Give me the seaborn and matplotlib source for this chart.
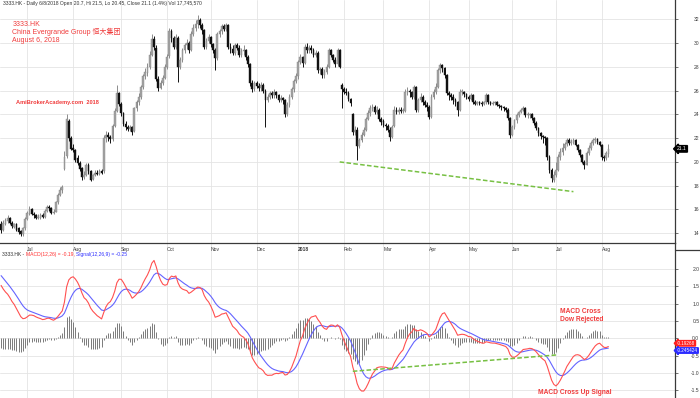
import numpy as np
import pandas as pd
import seaborn as sns
import matplotlib
import matplotlib.pyplot as plt
from matplotlib.lines import Line2D

matplotlib.use("Agg")

# daily bars, 3333.HK, mid June 2017 - 6 Aug 2018
opens = [
    14.8, 14.3, 14.8, 15.0, 15.3, 14.9, 14.5, 14.8, 14.4, 14.2,
    13.9, 14.4, 15.2, 15.6, 16.0, 15.6, 15.5, 15.3, 15.3, 15.5,
    15.4, 15.9, 16.2, 16.1, 15.7, 15.8, 16.6, 17.2, 17.6, 19.4,
    20.5, 23.4, 22.0, 21.2, 21.0, 20.3, 19.9, 19.5, 18.7, 18.9,
    19.7, 19.2, 18.6, 18.9, 19.1, 19.0, 19.2, 19.2, 22.0, 22.3,
    22.1, 21.9, 23.0, 24.3, 25.8, 24.9, 24.1, 23.2, 22.9, 22.8,
    22.9, 22.6, 24.5, 25.0, 25.5, 26.3, 27.2, 27.5, 28.0, 29.0,
    30.3, 29.6, 27.0, 26.2, 26.6, 27.1, 28.0, 28.9, 31.0, 30.4,
    29.7, 30.4, 28.0, 28.6, 29.4, 29.8, 30.0, 29.4, 30.8, 31.3,
    31.6, 31.9, 31.5, 31.1, 29.7, 30.2, 30.5, 29.9, 29.4, 28.7,
    30.8, 31.0, 31.4, 31.2, 31.5, 29.7, 29.5, 29.2, 29.8, 29.6,
    29.0, 29.3, 29.4, 28.8, 28.2, 26.6, 26.1, 26.6, 26.4, 26.2,
    26.5, 26.0, 25.2, 25.5, 25.8, 25.6, 25.9, 25.6, 25.2, 25.4,
    25.2, 24.0, 24.8, 25.5, 26.1, 26.8, 27.2, 28.4, 28.8, 28.3,
    29.7, 29.4, 29.6, 29.4, 29.0, 29.2, 27.7, 27.8, 27.3, 27.6,
    28.0, 29.4, 29.0, 28.6, 28.2, 29.4, 26.5, 26.1, 25.9, 25.8,
    25.3, 24.0, 22.5, 22.7, 21.3, 21.85, 22.3, 22.7, 23.6, 24.1,
    24.5, 24.6, 24.2, 24.4, 23.6, 23.4, 23.1, 23.0, 22.7, 22.1,
    23.0, 24.4, 24.2, 24.4, 24.3, 24.3, 25.9, 26.0, 25.9, 25.5,
    26.3, 24.4, 25.2, 25.5, 25.0, 24.8, 24.6, 23.8, 25.5, 25.9,
    26.3, 27.7, 28.15, 27.9, 27.3, 25.8, 25.6, 25.5, 25.2, 25.0,
    24.4, 25.9, 25.9, 25.7, 25.5, 25.3, 25.6, 25.0, 24.9, 25.0,
    24.95, 24.9, 25.0, 25.6, 25.0, 24.9, 24.95, 25.0, 24.8, 24.7,
    24.6, 24.5, 24.4, 23.7, 22.3, 22.95, 23.5, 23.95, 24.2, 24.4,
    24.55, 23.95, 23.95, 24.0, 23.7, 23.3, 22.85, 22.4, 22.2, 22.1,
    22.0, 20.4, 19.3, 18.5, 18.9, 19.3, 20.4, 20.85, 21.2, 21.5,
    21.85, 21.6, 21.7, 21.85, 21.4, 21.0, 20.6, 20.0, 19.75, 20.75,
    21.2, 21.6, 21.85, 21.9, 21.7, 21.45, 20.4, 20.3, 20.7,
]
highs = [
    15.0, 15.1, 15.3, 15.5, 15.4, 15.0, 14.9, 14.9, 14.5, 14.3,
    14.5, 15.4, 15.9, 16.3, 16.1, 15.8, 15.6, 15.6, 15.7, 15.7,
    16.0, 16.4, 16.4, 16.2, 16.0, 16.7, 17.4, 17.9, 18.1, 20.9,
    24.0, 23.6, 22.2, 21.5, 21.1, 20.6, 20.1, 19.6, 19.2, 19.9,
    19.9, 19.3, 19.0, 19.3, 19.3, 19.4, 19.4, 22.3, 22.6, 22.5,
    22.3, 23.2, 24.5, 26.5, 25.9, 25.0, 24.2, 23.4, 23.1, 23.1,
    23.0, 24.6, 25.2, 25.8, 26.5, 27.4, 27.9, 28.3, 29.3, 30.8,
    30.6, 29.8, 27.2, 26.9, 27.3, 28.2, 29.1, 31.3, 31.2, 30.6,
    30.8, 30.6, 28.8, 29.6, 30.0, 30.3, 30.2, 31.0, 31.6, 31.9,
    32.4, 32.1, 31.7, 31.2, 30.4, 30.8, 30.6, 30.0, 29.6, 30.9,
    31.2, 31.6, 31.6, 31.7, 31.6, 30.0, 29.8, 30.0, 30.0, 29.8,
    29.6, 29.8, 29.5, 29.0, 28.3, 26.9, 26.8, 26.8, 26.6, 26.7,
    26.6, 26.1, 25.7, 26.0, 26.0, 26.1, 26.0, 25.7, 25.6, 25.5,
    25.3, 25.0, 25.7, 26.3, 27.0, 27.5, 28.6, 29.1, 28.9, 29.9,
    30.0, 29.8, 29.8, 29.6, 29.4, 29.3, 28.0, 28.0, 27.8, 28.2,
    29.6, 29.5, 29.1, 28.8, 29.6, 29.5, 26.6, 26.3, 26.2, 26.0,
    25.4, 24.1, 23.0, 22.9, 22.0, 22.5, 22.9, 23.8, 24.4, 24.8,
    24.9, 24.8, 24.7, 24.5, 23.8, 23.6, 23.3, 23.2, 22.9, 23.1,
    24.7, 24.6, 24.6, 24.6, 24.5, 26.1, 26.3, 26.1, 26.0, 26.5,
    26.4, 25.4, 25.8, 25.6, 25.2, 25.0, 24.8, 25.7, 26.1, 26.6,
    27.9, 28.3, 28.2, 28.0, 27.4, 26.0, 25.8, 25.7, 25.4, 25.1,
    26.1, 26.1, 26.0, 25.8, 25.6, 25.8, 25.7, 25.2, 25.1, 25.1,
    25.1, 25.1, 25.8, 25.7, 25.1, 25.1, 25.1, 25.1, 24.9, 24.8,
    24.7, 24.6, 24.5, 23.8, 23.1, 23.6, 24.1, 24.3, 24.5, 24.7,
    24.6, 24.2, 24.1, 24.1, 23.8, 23.4, 22.9, 22.5, 22.3, 22.2,
    22.1, 20.6, 19.5, 19.2, 20.0, 20.7, 21.2, 21.6, 21.7, 22.0,
    22.0, 21.9, 22.0, 21.9, 21.5, 21.1, 20.7, 20.2, 20.9, 21.4,
    21.8, 22.0, 22.1, 22.0, 21.8, 21.5, 20.6, 20.9, 21.5,
]
lows = [
    14.0, 14.2, 14.7, 14.9, 14.8, 14.4, 14.4, 14.2, 13.9, 13.8,
    13.8, 14.3, 15.1, 15.5, 15.5, 15.3, 15.2, 15.2, 15.2, 15.3,
    15.3, 15.8, 15.9, 15.6, 15.6, 15.8, 16.5, 17.1, 17.4, 19.3,
    20.3, 21.8, 21.0, 20.8, 20.0, 19.7, 19.2, 18.5, 18.6, 18.8,
    19.0, 18.4, 18.5, 18.8, 18.9, 18.9, 19.0, 19.1, 21.7, 21.8,
    21.6, 21.8, 22.9, 24.2, 24.7, 23.9, 23.0, 22.7, 22.6, 22.6,
    22.3, 22.5, 24.3, 24.8, 25.3, 26.1, 27.0, 27.2, 27.8, 28.9,
    29.4, 26.8, 26.0, 26.1, 26.5, 27.0, 27.8, 28.7, 30.1, 29.5,
    29.5, 26.7, 27.8, 28.4, 29.2, 29.5, 29.2, 29.3, 30.6, 31.0,
    31.3, 31.3, 30.8, 29.5, 29.5, 30.0, 29.7, 29.2, 27.7, 28.6,
    30.5, 30.8, 31.0, 31.0, 29.5, 29.2, 29.0, 29.0, 29.4, 28.8,
    28.8, 29.0, 28.6, 28.0, 26.4, 25.9, 26.0, 26.2, 26.0, 26.0,
    25.8, 22.9, 25.0, 25.3, 25.4, 25.4, 25.4, 25.0, 25.0, 24.9,
    23.8, 23.9, 24.6, 25.3, 25.9, 26.6, 27.0, 28.2, 28.0, 28.2,
    29.2, 29.2, 29.2, 28.8, 28.8, 27.5, 27.4, 27.1, 27.1, 27.4,
    27.9, 28.8, 28.4, 28.0, 28.1, 27.9, 24.5, 25.7, 25.6, 25.1,
    24.7, 22.3, 22.3, 20.2, 21.2, 21.7, 22.2, 22.6, 23.5, 23.9,
    24.3, 24.0, 24.0, 23.4, 23.1, 22.9, 22.7, 22.5, 21.8, 22.0,
    22.9, 24.0, 24.0, 24.1, 24.1, 24.2, 25.6, 25.5, 25.3, 25.3,
    24.2, 24.2, 25.0, 24.8, 24.6, 24.3, 23.6, 23.7, 25.3, 25.7,
    26.2, 27.5, 27.6, 27.1, 25.6, 25.2, 25.2, 24.9, 24.7, 23.9,
    24.3, 25.6, 25.5, 25.3, 25.1, 25.2, 24.9, 24.8, 24.8, 24.8,
    24.7, 24.8, 24.9, 24.9, 24.8, 24.8, 24.8, 24.7, 24.5, 24.4,
    24.3, 24.2, 23.5, 22.0, 22.2, 22.8, 23.3, 23.8, 24.1, 24.3,
    23.8, 23.7, 23.7, 23.5, 23.1, 22.7, 22.2, 21.9, 21.6, 21.4,
    20.2, 19.1, 18.3, 18.3, 18.7, 19.2, 20.2, 20.6, 21.0, 21.3,
    21.4, 21.4, 21.5, 21.3, 20.8, 20.4, 19.9, 19.4, 19.7, 20.6,
    21.0, 21.4, 21.6, 21.5, 21.3, 20.2, 20.1, 20.2, 20.45,
]
closes = [
    14.3, 14.9, 15.1, 15.3, 14.9, 14.6, 14.8, 14.3, 14.1, 13.9,
    14.4, 15.2, 15.7, 16.0, 15.6, 15.5, 15.3, 15.4, 15.5, 15.4,
    15.9, 16.2, 16.1, 15.7, 15.8, 16.6, 17.2, 17.6, 17.9, 20.4,
    23.6, 22.0, 21.1, 21.0, 20.2, 19.9, 19.4, 18.7, 18.9, 19.7,
    19.2, 18.5, 18.9, 19.1, 19.0, 19.2, 19.1, 22.0, 22.3, 22.1,
    21.9, 23.0, 24.3, 25.8, 24.9, 24.1, 23.2, 22.9, 22.8, 22.9,
    22.5, 24.5, 25.0, 25.5, 26.3, 27.2, 27.6, 28.0, 29.0, 30.3,
    29.7, 27.0, 26.2, 26.6, 27.1, 28.0, 28.8, 31.0, 30.4, 29.7,
    30.5, 28.0, 28.6, 29.4, 29.8, 30.0, 29.4, 30.8, 31.3, 31.6,
    31.9, 31.5, 31.1, 29.7, 30.2, 30.5, 29.9, 29.4, 28.7, 30.8,
    31.0, 31.4, 31.2, 31.5, 29.7, 29.5, 29.2, 29.8, 29.6, 29.0,
    29.3, 29.4, 28.8, 28.2, 26.6, 26.1, 26.6, 26.4, 26.2, 26.5,
    26.0, 25.2, 25.5, 25.8, 25.6, 25.9, 25.6, 25.2, 25.4, 25.2,
    24.0, 24.8, 25.5, 26.1, 26.8, 27.2, 28.4, 28.8, 28.3, 29.7,
    29.4, 29.6, 29.4, 29.0, 29.2, 27.7, 27.8, 27.3, 27.6, 28.0,
    29.4, 29.0, 28.6, 28.2, 29.4, 28.0, 26.1, 25.9, 25.8, 25.3,
    24.95, 22.5, 22.7, 21.3, 21.85, 22.3, 22.7, 23.6, 24.1, 24.5,
    24.6, 24.2, 24.4, 23.6, 23.4, 23.1, 23.0, 22.7, 22.1, 22.95,
    24.4, 24.2, 24.4, 24.3, 24.3, 25.9, 26.0, 25.9, 25.5, 26.3,
    24.4, 25.2, 25.5, 25.0, 24.8, 24.6, 23.8, 25.5, 25.9, 26.3,
    27.7, 28.15, 27.9, 27.3, 25.8, 25.6, 25.5, 25.2, 25.0, 24.4,
    25.9, 25.9, 25.7, 25.5, 25.3, 25.6, 25.0, 24.9, 25.0, 24.95,
    24.9, 25.0, 25.6, 25.0, 24.9, 24.95, 25.0, 24.8, 24.7, 24.6,
    24.5, 24.4, 23.7, 22.3, 22.95, 23.5, 23.95, 24.2, 24.4, 24.55,
    23.95, 23.95, 24.0, 23.7, 23.3, 22.85, 22.4, 22.2, 22.1, 22.0,
    20.4, 19.3, 18.65, 18.9, 19.3, 20.4, 20.85, 21.2, 21.5, 21.85,
    21.6, 21.7, 21.85, 21.4, 21.0, 20.6, 20.0, 19.75, 20.75, 21.2,
    21.6, 21.85, 21.9, 21.7, 21.45, 20.4, 20.3, 20.75, 21.1,
]

# month labels on the date axis and the bar they fall on
month_labels = ["Jul", "Aug", "Sep", "Oct", "Nov", "Dec", "2018",
                "Feb", "Mar", "Apr", "May", "Jun", "Jul", "Aug"]
month_bars = [12, 33, 55, 76, 96, 117, 136, 157, 175, 196, 214, 234, 254, 275]

price_ticks = [14, 16, 18, 20, 22, 24, 26, 28, 30, 32]
macd_ticks = [-1.5, -1.0, -0.5, 0.0, 0.5, 1.0, 1.5, 2.0]

ema12_start = 14.9
ema26_start = 13.2
signal_start = 1.88

# hand drawn trend lines
price_trend_bar = [155, 262]
price_trend_val = [20.0, 17.5]
macd_trend_bar = [161, 254]
macd_trend_val = [-0.95, -0.48]

last_close = "21.1"
macd_last = "-0.19268"
signal_last = "-0.245424"


def ema(values, span, start):
    alpha = 2 / (span + 1)
    level = start
    out = []
    for v in values:
        level = level + alpha * (v - level)
        out.append(level)
    return np.array(out)


df = pd.DataFrame({"open": opens, "high": highs, "low": lows, "close": closes})
df["bar"] = np.arange(len(df))
df["macd"] = ema(df["close"], 12, ema12_start) - ema(df["close"], 26, ema26_start)
df["signal"] = ema(df["macd"], 9, signal_start)
df["hist"] = df["macd"] - df["signal"]

sns.set_theme(style="white")
plt.rcParams["font.family"] = ["Liberation Sans", "Noto Sans CJK SC"]

fig = plt.figure(figsize=(7, 3.98), dpi=100)
ax = fig.add_axes([0, 155 / 398, 675 / 700, 243 / 398])
ax2 = fig.add_axes([0, 0, 675 / 700, 155 / 398])
ax2.patch.set_visible(False)
ax.set_zorder(2)
ax.patch.set_visible(False)

grid_col = "#e4e4e4"
axis_col = "#3a3a3a"
xlim = (-0.5, 308.5)

# --- price pane ---
up = df["close"] >= df["open"]
colors = np.where(up, "#a4a4a4", "#111111")
body_lo = np.minimum(df["open"], df["close"])
body_h = np.maximum((df["close"] - df["open"]).abs(), 0.06)
ax.vlines(df["bar"], df["low"], df["high"], colors=np.where(up, "#8c8c8c", "#111111"),
          lw=0.7, zorder=3)
ax.bar(df["bar"], body_h, bottom=body_lo, width=0.8, color=colors,
       edgecolor=np.where(up, "#858585", "#111111"), linewidth=0.3, zorder=4)

sns.lineplot(x=price_trend_bar, y=price_trend_val, ax=ax, color="#77c043",
             lw=1.1, linestyle=(0, (3, 1.5)), zorder=5)

ax.set_xlim(*xlim)
ax.set_ylim(13.18, 33.62)
ax.set_yticks(price_ticks)
ax.set_xticks(month_bars)
ax.set_xticklabels(month_labels)
ax.grid(True, color=grid_col, lw=0.6)
ax.set_axisbelow(True)

# --- MACD pane ---
ax2.vlines(df["bar"], 0, df["hist"], colors="#7a7a7a", lw=0.7, zorder=3)
sns.lineplot(data=df, x="bar", y="signal", ax=ax2, color="#6464ff", lw=0.8, zorder=4)
sns.lineplot(data=df, x="bar", y="macd", ax=ax2, color="#ff5050", lw=0.8, zorder=5)
sns.lineplot(x=macd_trend_bar, y=macd_trend_val, ax=ax2, color="#77c043",
             lw=1.1, linestyle=(0, (3, 1.5)), zorder=6)
ax2.set_xlim(*xlim)
ax2.set_ylim(-1.72, 2.75)
ax2.set_yticks(macd_ticks)
ax2.set_yticklabels([f"{t:.1f}" for t in macd_ticks])
ax2.set_xticks(month_bars)
ax2.set_xticklabels([])
ax2.grid(True, color=grid_col, lw=0.6)
ax2.set_axisbelow(True)
ax2.set_xlabel("")
ax2.set_ylabel("")
ax.set_xlabel("")
ax.set_ylabel("")

for a in (ax, ax2):
    a.yaxis.tick_right()
    for s in ("left", "top"):
        a.spines[s].set_visible(False)
    a.spines["right"].set_color(axis_col)
    a.spines["right"].set_linewidth(0.9)
    a.tick_params(axis="y", direction="out", length=2.5, width=0.5, colors=axis_col,
                  labelsize=3.6, pad=15)
    for lbl in a.get_yticklabels():
        lbl.set_ha("right")
ax.spines["bottom"].set_color(axis_col)
ax.spines["bottom"].set_linewidth(0.9)
ax2.spines["bottom"].set_visible(False)
ax.tick_params(axis="x", direction="out", length=2.5, width=0.5, colors=axis_col,
               labelsize=3.6, pad=0.5)
ax2.tick_params(axis="x", length=0)
for lbl in ax.get_xticklabels():
    lbl.set_ha("left")
    if lbl.get_text() == "2018":
        lbl.set_fontweight("bold")

# top edge of the MACD scale box
fig.add_artist(Line2D([675 / 700, 1], [1 - 249.5 / 398] * 2, color=axis_col, lw=0.9))

# --- texts ---
ax.text(0.004, 0.984, "3333.HK - Daily 6/8/2018 Open 20.7, Hi 21.5, Lo 20.45, "
        "Close 21.1 (1.4%) Vol 17,745,570", transform=ax.transAxes,
        fontsize=3.6, color="#333333", va="center", ha="left")
red = "#f03c3c"
for yy, s in [(0.901, "3333.HK"), (0.867, "China Evergrande Group 恒大集团"),
              (0.834, "August 6, 2018")]:
    ax.text(0.0185, yy, s, transform=ax.transAxes, fontsize=5, color=red,
            va="center", ha="left")
ax.text(0.0235, 0.577, "AmiBrokerAcademy.com  2018", transform=ax.transAxes,
        fontsize=4.1, color=red, va="center", ha="left", fontweight="bold")

ax.text(1.003, float(last_close), last_close, transform=ax.get_yaxis_transform(),
        fontsize=3.6, color="white", va="center", ha="left", clip_on=False,
        bbox=dict(boxstyle="larrow,pad=0.15", fc="black", ec="black"))

t1 = ax2.text(0.003, 0.929, "3333.HK - ", transform=ax2.transAxes,
              fontsize=3.6, color="#333333", va="center", ha="left")
t2 = ax2.annotate("MACD(12,26) = -0.19, ", xy=(1, 0), xycoords=t1,
                  fontsize=3.6, color="#ff3030", va="bottom", ha="left")
ax2.annotate("Signal(12,26,9) = -0.25", xy=(1, 0), xycoords=t2,
             fontsize=3.6, color="#3030ff", va="bottom", ha="left")

ax2.text(0.8296, 0.557, "MACD Cross", transform=ax2.transAxes, fontsize=4.8,
         color=red, fontweight="bold", va="center", ha="left")
ax2.text(0.8296, 0.508, "Dow Rejected", transform=ax2.transAxes, fontsize=4.8,
         color=red, fontweight="bold", va="center", ha="left")
ax2.text(0.7975, 0.034, "MACD Cross Up Signal", transform=ax2.transAxes,
         fontsize=4.8, color=red, fontweight="bold", va="center", ha="left")

# last-value tags on the MACD scale, stacked so they do not cover each other
ax2.text(1.003, float(macd_last) + 0.05, macd_last, transform=ax2.get_yaxis_transform(),
         fontsize=3.3, color="white", va="center", ha="left", clip_on=False,
         bbox=dict(boxstyle="larrow,pad=0.05", fc="#ff2020", ec="#ff2020"))
ax2.text(1.003, float(signal_last) - 0.105, signal_last,
         transform=ax2.get_yaxis_transform(), fontsize=3.3, color="white",
         va="center", ha="left", clip_on=False,
         bbox=dict(boxstyle="larrow,pad=0.05", fc="#2a2aff", ec="#2a2aff"))

fig.savefig("out.png", dpi=100)
